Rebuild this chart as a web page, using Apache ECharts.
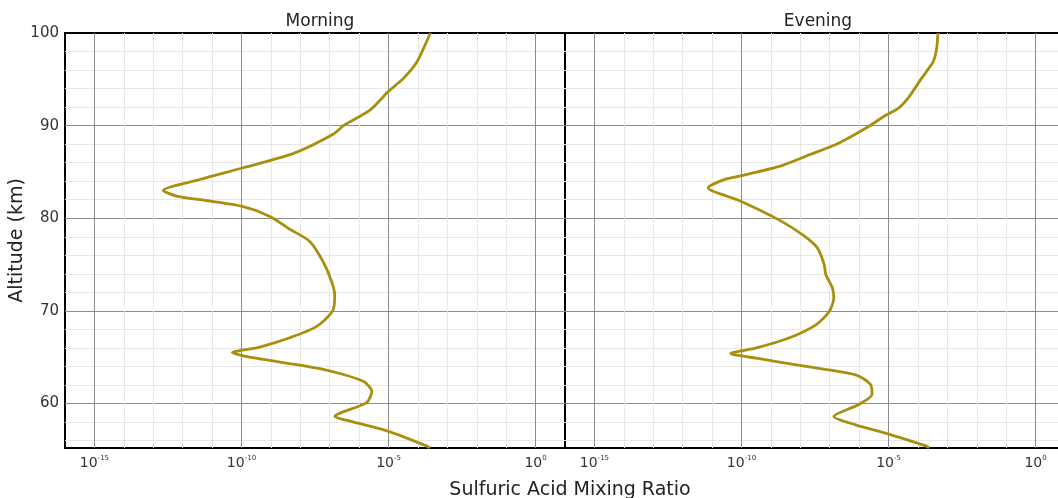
<!DOCTYPE html>
<html>
<head>
<meta charset="utf-8">
<script src="https://cdn.jsdelivr.net/npm/echarts@6/dist/echarts.min.js"></script>
<style>html,body{margin:0;padding:0;background:#fff;}#chart{width:1058px;height:498px;}</style>
</head>
<body>
<div id="chart"></div>
<script>
// ---- data ----
const panelTitles = ['Morning', 'Evening'];
const xTickValues = [1e-15, 1e-10, 1e-5, 1];
const xMinorValues = [1e-16, 1e-14, 1e-13, 1e-12, 1e-11, 1e-9, 1e-8, 1e-7, 1e-6, 1e-4, 1e-3, 1e-2, 1e-1, 10];
const yTickValues = [60, 70, 80, 90, 100];
const yMinorValues = [56, 58, 62, 64, 66, 68, 72, 74, 76, 78, 82, 84, 86, 88, 92, 94, 96, 98];

const morningAlt = [100, 96.9, 95.1, 93.7, 91.7, 90.0, 89.1, 87.0, 85.4, 84.2, 83.0, 82.4, 82.0, 81.3, 80.2, 78.8, 77.5, 75.3, 73.2, 71.7, 70.0, 68.3, 67.1, 66.1, 65.5, 65.0, 63.7, 62.4, 61.3, 60.1, 58.6, 58.1, 57.0, 55.4, 55.2];
const morningVal = [2.63e-4, 9.3e-5, 3.2e-5, 1.0e-5, 2.4e-6, 2.95e-7, 1.35e-7, 5.9e-9, 1.0e-10, 4.0e-12, 2.2e-13, 6.3e-13, 4.0e-12, 1.0e-10, 9.3e-10, 4.5e-9, 2.1e-8, 6.0e-8, 1.15e-7, 1.48e-7, 1.26e-7, 3.5e-8, 4.4e-9, 4.2e-10, 4.9e-11, 1.9e-10, 6.0e-8, 1.38e-6, 2.7e-6, 1.8e-6, 1.5e-7, 4.9e-7, 1.0e-5, 2.04e-4, 2.5e-4];

const eveningAlt = [100, 98.3, 96.9, 95.1, 93.0, 91.9, 91.1, 89.9, 88.1, 86.7, 85.6, 84.6, 84.2, 83.3, 81.9, 79.8, 78.1, 76.8, 75.0, 73.9, 72.5, 71.4, 69.9, 68.5, 67.1, 66.0, 65.4, 64.9, 64.0, 63.1, 62.1, 61.0, 59.9, 58.6, 57.7, 56.7, 55.4, 55.2];
const eveningVal = [4.8e-4, 4.3e-4, 3.3e-4, 1.32e-4, 4.7e-5, 2.2e-5, 7.8e-6, 2.1e-6, 2.0e-7, 1.55e-8, 1.95e-9, 1.0e-10, 2.75e-11, 7.4e-12, 8.7e-11, 1.95e-9, 1.35e-8, 3.8e-8, 6.5e-8, 7.4e-8, 1.23e-7, 1.38e-7, 9.5e-8, 3.4e-8, 4.3e-9, 3.2e-10, 4.3e-11, 3.2e-10, 1.55e-8, 7.6e-7, 2.4e-6, 2.75e-6, 9.8e-7, 1.38e-7, 7.6e-7, 1.0e-5, 1.95e-4, 2.4e-4];

// ---- chart ----
const FONT = 'DejaVu Sans';
const LINE_COLOR = '#a88f0e';
const chart = echarts.init(document.getElementById('chart'), null, {renderer: 'canvas'});

const gridBase = {top: 33, width: 500, height: 415, show: true, borderColor: '#000', borderWidth: 2,
  backgroundColor: 'transparent', containLabel: false, outerBoundsMode: 'none'};
const grids = [
  Object.assign({left: 65}, gridBase),
  Object.assign({left: 565}, gridBase)
];

function xMain(g) {
  return {
    type: 'log', logBase: 10, gridIndex: g, min: 1e-16, max: 10,
    axisLine: {show: false},
    axisTick: {show: false, customValues: xTickValues},
    axisLabel: {
      customValues: xTickValues, margin: 7,
      formatter: v => '{b|10}{s|' + Math.round(Math.log10(v)) + '}',
      rich: {
        b: {fontFamily: FONT, fontSize: 14, color: '#333'},
        s: {fontFamily: FONT, fontSize: 7, color: '#333', padding: [0, 0, 10, 0]}
      }
    },
    splitLine: {show: true, showMinLine: true, showMaxLine: true, lineStyle: {color: '#8c8c8c', width: 1}}
  };
}
function xMinor(g) {
  return {
    type: 'log', logBase: 10, gridIndex: g, min: 1e-16, max: 10,
    axisLine: {show: false},
    axisTick: {show: false, customValues: xMinorValues},
    axisLabel: {show: false, customValues: xMinorValues},
    splitLine: {show: true, showMinLine: false, showMaxLine: false, lineStyle: {color: '#e8e8e8', width: 1}}
  };
}
function yMain(g) {
  const ax = {
    type: 'value', gridIndex: g, min: 55.2, max: 100,
    axisLine: {show: false},
    axisTick: {show: false, customValues: yTickValues},
    axisLabel: {show: g === 0, customValues: yTickValues, fontFamily: FONT, fontSize: 15, color: '#333', margin: 6},
    splitLine: {show: true, showMinLine: true, showMaxLine: false, lineStyle: {color: '#8c8c8c', width: 1}}
  };
  if (g === 0) {
    ax.name = 'Altitude (km)';
    ax.nameLocation = 'middle';
    ax.nameGap = 31;
    ax.nameRotate = 90;
    ax.nameTextStyle = {fontFamily: FONT, fontSize: 19, color: '#222'};
  }
  return ax;
}
function yMinor(g) {
  return {
    type: 'value', gridIndex: g, min: 55.2, max: 100,
    axisLine: {show: false},
    axisTick: {show: false, customValues: yMinorValues},
    axisLabel: {show: false, customValues: yMinorValues},
    splitLine: {show: true, showMinLine: true, showMaxLine: true, lineStyle: {color: '#e8e8e8', width: 1}}
  };
}

const option = {
  backgroundColor: '#fff',
  animation: false,
  title: [
    {text: panelTitles[0], left: 315, top: 8, textAlign: 'center', textStyle: {fontFamily: FONT, fontSize: 17, fontWeight: 'normal', color: '#222'}},
    {text: panelTitles[1], left: 813, top: 8, textAlign: 'center', textStyle: {fontFamily: FONT, fontSize: 17, fontWeight: 'normal', color: '#222'}},
    {text: 'Sulfuric Acid Mixing Ratio', left: 565, top: 476, textAlign: 'center', textStyle: {fontFamily: FONT, fontSize: 19, fontWeight: 'normal', color: '#222'}}
  ],
  grid: grids,
  xAxis: [xMain(0), xMain(1), xMinor(0), xMinor(1)],
  yAxis: [yMain(0), yMain(1), yMinor(0), yMinor(1)],
  series: [
    {
      name: panelTitles[0], type: 'line', xAxisIndex: 0, yAxisIndex: 0,
      data: morningAlt.map((a, i) => [morningVal[i], a]),
      showSymbol: false, smooth: 0.25, clip: true,
      lineStyle: {color: LINE_COLOR, width: 2.8}, z: 5
    },
    {
      name: panelTitles[1], type: 'line', xAxisIndex: 1, yAxisIndex: 1,
      data: eveningAlt.map((a, i) => [eveningVal[i], a]),
      showSymbol: false, smooth: 0.25, clip: true,
      lineStyle: {color: LINE_COLOR, width: 2.8}, z: 5
    }
  ]
};
chart.setOption(option);
</script>
</body>
</html>
